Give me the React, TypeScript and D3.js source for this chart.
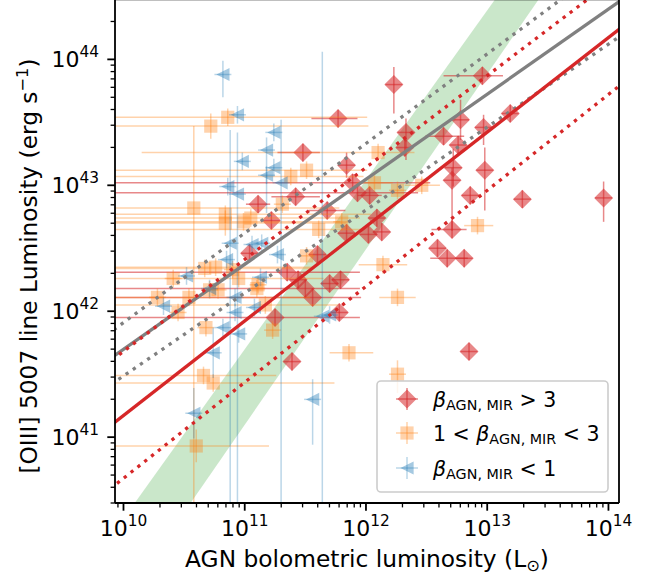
import React from "react";
import * as d3 from "d3";

const FONT = "'DejaVu Sans', sans-serif";

// ---- axes ----
const xTickExps = [10, 11, 12, 13, 14];
const yTickExps = [41, 42, 43, 44];
const xLimLog = [9.93, 14.087];
const yLim = [3e40, 3e44];

const xLabel = "AGN bolometric luminosity (L";
const yLabel = "[OIII] 5007 line Luminosity (erg s";

// ---- data: [log Lbol (Lsun), log L[OIII] (erg/s), xErrLow, xErrHigh, yErrLow, yErrHigh] in dex ----
const highBeta: number[][] = [
  [12.96, 43.87, 0.32, 0.17],
  [12.23, 43.8, 0.07, 0.07, 0.23, 0.14],
  [11.77, 43.53, 0.22, 0.16],
  [11.48, 43.26, 0.21, 0.14],
  [11.84, 43.16, 0.07, 0.07, 0.1, 0.1],
  [12.33, 43.42, 0.07, 0.07, 0.22, 0.11],
  [12.32, 43.3],
  [12.64, 43.39, 0.15, 0.17],
  [12.78, 43.52, 0.07, 0.07, 0.16, 0.16],
  [13.19, 43.57],
  [12.97, 43.46, 0.07, 0.07, 0.14, 0.1],
  [12.76, 43.32],
  [12.72, 43.14, 0.07, 0.07, 0.15, 0.15],
  [12.71, 43.04, 0.07, 0.07, 0.4, 0.1],
  [12.98, 43.12, 0.07, 0.07, 0.32, 0.18],
  [12.86, 42.92],
  [13.29, 42.89],
  [13.96, 42.9, 0.07, 0.07, 0.19, 0.13],
  [12.71, 42.65, 0.17, 0.12],
  [12.59, 42.5],
  [12.67, 42.42, 0.14, 0.17],
  [12.81, 42.42],
  [12.85, 41.68],
  [11.78, 41.99],
  [11.89, 43.02, 3, 0.64],
  [11.93, 42.94, 3, 0.5],
  [12.03, 42.92, 0.1, 0.1],
  [12.09, 42.74],
  [12.13, 42.63],
  [11.84, 42.62],
  [12.02, 42.61],
  [11.42, 42.91, 0.2, 0.2],
  [11.11, 42.85, 0.1, 0.1],
  [11.22, 42.72],
  [11.68, 42.8, 0.15, 0.15],
  [11.04, 42.46],
  [11.6, 42.45],
  [11.35, 42.31, 3, 0.6],
  [11.44, 42.25],
  [11.5, 42.18, 3, 0.45],
  [11.56, 42.11, 3, 0.4],
  [11.7, 42.22],
  [11.79, 42.25],
  [11.25, 41.95, 3, 0.7],
  [11.39, 41.6],
];

const midBeta: number[][] = [
  [10.86, 43.54, 3, 1.15],
  [10.72, 43.47, 3, 1.3, 0.1, 0.1],
  [10.58, 42.82, 3, 1.2, 3, 0.65],
  [11.38, 43.07, 3, 0.6],
  [11.51, 43.12, 3, 0.5],
  [11.31, 42.85],
  [10.84, 42.77, 3, 1.2],
  [10.84, 42.7, 3, 1.0, 0.1, 0.1],
  [10.99, 42.71, 3, 0.8],
  [11.05, 42.74, 3, 0.9],
  [11.61, 42.65, 3, 0.35],
  [11.8, 42.71],
  [11.51, 42.44],
  [12.1, 43.26, 1.95, 0.3],
  [12.07, 43.02, 0.15, 0.15],
  [12.26, 42.96],
  [12.46, 43.0, 0.14, 0.15],
  [12.92, 42.68, 0.11, 0.13],
  [12.14, 42.37, 0.2, 0.2],
  [12.26, 42.11, 0.15, 0.15],
  [11.86, 41.67, 0.16, 0.2],
  [12.26, 41.5, 0.07, 0.07, 0.15, 0.11],
  [10.67, 42.34, 3, 0.9],
  [10.76, 42.35, 3, 0.8],
  [10.9, 42.33],
  [10.95, 42.26, 3, 0.7],
  [10.71, 42.17],
  [10.78, 42.17],
  [10.41, 42.26],
  [10.28, 42.11],
  [10.54, 42.11, 3, 1.0],
  [10.45, 41.99],
  [11.1, 42.18],
  [11.17, 42.05, 3, 0.6],
  [10.68, 41.87],
  [11.23, 41.85],
  [10.66, 41.49, 3, 0.6],
  [10.74, 41.43, 3, 1.0],
  [10.6, 40.93, 3, 0.6, 0.13, 0.13],
  [11.11, 42.21],
];

const lowBeta: number[][] = [
  [10.82, 43.88, 0.07, 0.07, 0.18, 0.11],
  [10.94, 43.56],
  [11.24, 43.42],
  [11.18, 43.28, 0.07, 0.07, 0.5, 0.1],
  [10.98, 43.19],
  [11.24, 43.14],
  [11.18, 43.08],
  [11.3, 43.02, 0.07, 0.07, 3, 0.5],
  [10.86, 42.99],
  [10.94, 42.93, 0.07, 0.07, 3, 0.49],
  [10.88, 42.54, 0.07, 0.07, 3, 0.9],
  [11.06, 42.53],
  [11.14, 42.54],
  [11.27, 42.45],
  [10.85, 42.41],
  [10.52, 42.28],
  [11.13, 42.27],
  [10.71, 42.18],
  [10.92, 42.11],
  [10.33, 42.04],
  [11.08, 42.03],
  [10.92, 41.99],
  [10.82, 41.87],
  [10.95, 41.82],
  [10.74, 41.67, 0.07, 0.07, 0.2, 0.2],
  [11.64, 41.96, 0.07, 0.07, 3, 2.1],
  [11.7, 41.97],
  [11.56, 41.3, 0.07, 0.07, 0.36, 0.16],
  [10.58, 41.19, 0.07, 0.07, 0.2, 0.2],
];

// ---- fits (log10 endpoints) ----
const allFit = [[9.93, 41.65], [14.09, 44.46]];
const allFitUpper = [[9.93, 41.86], [13.6, 44.47]];
const allFitLower = [[9.93, 41.44], [14.09, 44.18]];
const redFit = [[9.93, 41.12], [14.09, 44.24]];
const redFitUpper = [[9.93, 41.63], [13.82, 44.47]];
const redFitLower = [[9.93, 40.62], [14.09, 43.79]];
const bandUpper = [[10.11, 40.5], [13.06, 44.47]];
const bandLower = [[10.57, 40.5], [13.42, 44.47]];

const RED = "#d62728";
const ORANGE = "#ff7f0e";
const BLUE = "#1f77b4";
const GRAY = "#808080";
const GREEN = "#2ca02c";

const DEF = 0.07;

type Shape = "D" | "s" | "<";

function markerPath(shape: Shape, cx: number, cy: number) {
  if (shape === "D") {
    const r = 9.5;
    return `M${cx},${cy - r}L${cx + r},${cy}L${cx},${cy + r}L${cx - r},${cy}Z`;
  }
  if (shape === "s") {
    const h = 6.6;
    return `M${cx - h},${cy - h}L${cx + h},${cy - h}L${cx + h},${cy + h}L${cx - h},${cy + h}Z`;
  }
  const h = 6.6;
  return `M${cx - h},${cy}L${cx + h},${cy - h}L${cx + h},${cy + h}Z`;
}

function extend(seg: number[][], t0: number, t1: number) {
  const [[a, b], [c, d]] = seg;
  return [
    [a + (c - a) * t0, b + (d - b) * t0],
    [a + (c - a) * t1, b + (d - b) * t1],
  ];
}

export default function App() {
  const W = 650, H = 579;
  const L = 115, R = 619, T = -0.7, B = 503;
  const x = d3.scaleLog().domain([10 ** xLimLog[0], 10 ** xLimLog[1]]).range([L, R]);
  const y = d3.scaleLog().domain(yLim).range([B, T]);
  const X = (l: number) => x(10 ** l);
  const Y = (l: number) => y(10 ** l);
  const line = d3.line<number[]>().x((d) => X(d[0])).y((d) => Y(d[1]));

  const series = (rows: number[][], color: string, alpha: number, lineAlpha: number, shape: Shape, key: string) => (
    <g key={key}>
      {rows.map((r, i) => {
        const [lx, ly] = r;
        const xm = r[2] ?? DEF, xp = r[3] ?? DEF, ym = r[4] ?? DEF, yp = r[5] ?? DEF;
        const cx = X(lx), cy = Y(ly);
        return (
          <g key={i}>
            <line x1={X(lx - xm)} x2={X(lx + xp)} y1={cy} y2={cy} stroke={color} strokeOpacity={lineAlpha} strokeWidth={1.5} />
            <line x1={cx} x2={cx} y1={Y(ly - ym)} y2={Y(ly + yp)} stroke={color} strokeOpacity={lineAlpha} strokeWidth={1.5} />
            <path d={markerPath(shape, cx, cy)} fill={color} fillOpacity={alpha} />
          </g>
        );
      })}
    </g>
  );

  const bandU = extend(bandUpper, -0.3, 1.3);
  const bandL = extend(bandLower, -0.3, 1.3);
  const bandPoly = [...bandU, ...bandL.slice().reverse()]
    .map((d) => `${X(d[0])},${Y(d[1])}`)
    .join(" ");

  const fitLines = [
    { d: allFit, c: GRAY, dash: undefined },
    { d: allFitUpper, c: GRAY, dash: "3.3 5.4" },
    { d: allFitLower, c: GRAY, dash: "3.3 5.4" },
    { d: redFit, c: RED, dash: undefined },
    { d: redFitUpper, c: RED, dash: "3.3 5.4" },
    { d: redFitLower, c: RED, dash: "3.3 5.4" },
  ];

  const minorX: number[] = [];
  for (let e = 9; e <= 14; e++) for (let m = 2; m <= 9; m++) {
    const v = m * 10 ** e;
    if (v > 10 ** xLimLog[0] && v < 10 ** xLimLog[1]) minorX.push(v);
  }
  const minorY: number[] = [];
  for (let e = 40; e <= 44; e++) for (let m = 2; m <= 9; m++) {
    const v = m * 10 ** e;
    if (v >= yLim[0] * 0.999 && v <= yLim[1] * 1.001) minorY.push(v);
  }

  const fs = 22;
  const sfs = 15.4;
  const lfs = 23.3;
  const lsfs = 16.3;
  const gfs = 20.5;
  const gsfs = 14.3;

  const legendRows = [
    { shape: "D" as Shape, color: RED, alpha: 0.55, la: 0.55, pre: "", post: " > 3" },
    { shape: "s" as Shape, color: ORANGE, alpha: 0.35, la: 0.35, pre: "1 < ", post: " < 3" },
    { shape: "<" as Shape, color: BLUE, alpha: 0.4, la: 0.3, pre: "", post: " < 1" },
  ];
  const legendY = [399, 433, 468];

  return (
    <svg width={W} height={H} style={{ position: "absolute", left: 0, top: 0, background: "#fff" }} fontFamily={FONT}>
      <defs>
        <clipPath id="plotclip">
          <rect x={L} y={T} width={R - L} height={B - T} />
        </clipPath>
      </defs>
      <rect x={0} y={0} width={W} height={H} fill="#fff" />
      <g clipPath="url(#plotclip)">
        <polygon points={bandPoly} fill={GREEN} fillOpacity={0.25} />
        {series(highBeta, RED, 0.55, 0.55, "D", "red")}
        {series(midBeta, ORANGE, 0.35, 0.35, "s", "orange")}
        {series(lowBeta, BLUE, 0.4, 0.3, "<", "blue")}
        {fitLines.map((f, i) => (
          <path key={i} d={line(extend(f.d, -0.05, 1.1)) || ""} fill="none" stroke={f.c} strokeWidth={3.3} strokeDasharray={f.dash} />
        ))}
      </g>

      {/* legend */}
      <rect x={377} y={381} width={231} height={111} rx={4} fill="#fff" fillOpacity={0.8} stroke="#cccccc" strokeWidth={1.6} />
      {legendRows.map((r, i) => {
        const cy = legendY[i];
        const cx = 407;
        return (
          <g key={i}>
            <line x1={cx - 11} x2={cx + 11} y1={cy} y2={cy} stroke={r.color} strokeOpacity={r.la} strokeWidth={1.5} />
            <line x1={cx} x2={cx} y1={cy - 11} y2={cy + 11} stroke={r.color} strokeOpacity={r.la} strokeWidth={1.5} />
            <path d={markerPath(r.shape, cx, cy)} fill={r.color} fillOpacity={r.alpha} />
            <text x={433} y={cy + 7.5} fontSize={gfs} fill="#000">
              {r.pre}
              <tspan fontStyle="italic">β</tspan>
              <tspan fontSize={gsfs} dy={3.3}>AGN, MIR</tspan>
              <tspan dy={-3.3}>{r.post}</tspan>
            </text>
          </g>
        );
      })}

      {/* spines */}
      <line x1={L} x2={L} y1={T} y2={B} stroke="#000" strokeWidth={1.8} />
      <line x1={R} x2={R} y1={T} y2={B} stroke="#000" strokeWidth={1.8} />
      <line x1={L} x2={R} y1={B} y2={B} stroke="#000" strokeWidth={1.8} />
      <line x1={L} x2={R} y1={T} y2={T} stroke="#000" strokeWidth={1.8} />

      {/* x ticks */}
      {xTickExps.map((e) => (
        <g key={e}>
          <line x1={x(10 ** e)} x2={x(10 ** e)} y1={B} y2={B + 7.7} stroke="#000" strokeWidth={1.8} />
          <text x={x(10 ** e)} y={536} fontSize={fs} textAnchor="middle" fill="#000">
            <tspan>10</tspan>
            <tspan fontSize={sfs} dy={-10}>{e}</tspan>
          </text>
        </g>
      ))}
      {minorX.map((v, i) => (
        <line key={i} x1={x(v)} x2={x(v)} y1={B} y2={B + 4.4} stroke="#000" strokeWidth={1.3} />
      ))}

      {/* y ticks */}
      {yTickExps.map((e) => (
        <g key={e}>
          <line x1={L - 7.7} x2={L} y1={y(10 ** e)} y2={y(10 ** e)} stroke="#000" strokeWidth={1.8} />
          <text x={99} y={y(10 ** e) + 8} fontSize={fs} textAnchor="end" fill="#000">
            <tspan>10</tspan>
            <tspan fontSize={sfs} dy={-10}>{e}</tspan>
          </text>
        </g>
      ))}
      {minorY.map((v, i) => (
        <line key={i} x1={L - 4.4} x2={L} y1={y(v)} y2={y(v)} stroke="#000" strokeWidth={1.3} />
      ))}

      {/* axis labels */}
      <text x={(L + R) / 2} y={567} fontSize={lfs} textAnchor="middle" fill="#000">
        {xLabel}
        <tspan fontSize={lsfs} dy={3.7}>⊙</tspan>
        <tspan dy={-3.7}>)</tspan>
      </text>
      <text transform={`translate(37,266) rotate(-90)`} fontSize={lfs} textAnchor="middle" fill="#000">
        {yLabel}
        <tspan fontSize={lsfs} dy={-9.5}>−1</tspan>
        <tspan dy={9.5}>)</tspan>
      </text>
    </svg>
  );
}
